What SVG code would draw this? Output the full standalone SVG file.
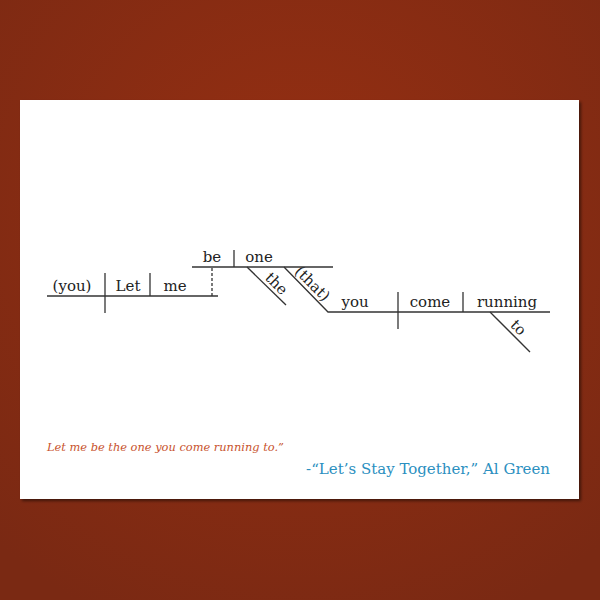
<svg xmlns="http://www.w3.org/2000/svg" width="600" height="600" viewBox="0 0 600 600">
<defs>
<radialGradient id="bg" cx="50%" cy="35%" r="75%">
<stop offset="0" stop-color="#962f12"/>
<stop offset="1" stop-color="#7a2913"/>
</radialGradient>
<filter id="sh" x="-5%" y="-5%" width="110%" height="110%">
<feGaussianBlur in="SourceAlpha" stdDeviation="1.5"/>
<feOffset dx="1.5" dy="1.5"/>
<feComponentTransfer><feFuncA type="linear" slope="0.5"/></feComponentTransfer>
<feMerge><feMergeNode/><feMergeNode in="SourceGraphic"/></feMerge>
</filter>
</defs>
<style>
.ln{stroke:#333;stroke-width:1.3;fill:none}
.w{font-family:"DejaVu Serif",serif;font-size:15px;fill:#222}
.c{text-anchor:middle}
</style>
<rect width="600" height="600" fill="url(#bg)"/>
<rect x="20" y="100" width="559" height="399" fill="#fff" filter="url(#sh)"/>
<g id="connectors">
<path class="ln" d="M47 296H218"/>
<path class="ln" d="M105 273V313"/>
<path class="ln" d="M150 273V296"/>
<path class="ln" d="M212 268V296" stroke-dasharray="3,2"/>
<path class="ln" d="M192 267H333"/>
<path class="ln" d="M234 250V267"/>
<path class="ln" d="M247 267L286 305"/>
<path class="ln" d="M284 267L328 312H550"/>
<path class="ln" d="M398 292V329"/>
<path class="ln" d="M463 292V312"/>
<path class="ln" d="M490 312L530 352"/>
</g>
<g id="n-you"><text class="w c" x="72" y="291">(you)</text></g>
<g id="n-let"><text class="w c" x="128" y="291">Let</text></g>
<g id="n-me"><text class="w c" x="175" y="291">me</text></g>
<g id="n-be"><text class="w c" x="212" y="262">be</text></g>
<g id="n-one"><text class="w c" x="259" y="262">one</text></g>
<g id="n-the"><text class="w c" transform="translate(270,290) rotate(45)" y="-4">the</text></g>
<g id="n-that"><text class="w c" transform="translate(306,290) rotate(45)" y="-4">(that)</text></g>
<g id="n-you2"><text class="w c" x="355" y="307">you</text></g>
<g id="n-come"><text class="w c" x="430" y="307">come</text></g>
<g id="n-running"><text class="w c" x="507" y="307">running</text></g>
<g id="n-to"><text class="w c" transform="translate(512,334) rotate(45)" y="-4">to</text></g>
<text x="47" y="451" font-family="DejaVu Serif,serif" font-style="italic" font-size="11.4" fill="#c8532e">Let me be the one you come running to.”</text>
<text x="550" y="474" text-anchor="end" font-family="DejaVu Serif,serif" font-size="15" fill="#2b8fc0">-“Let’s Stay Together,” Al Green</text>
</svg>
